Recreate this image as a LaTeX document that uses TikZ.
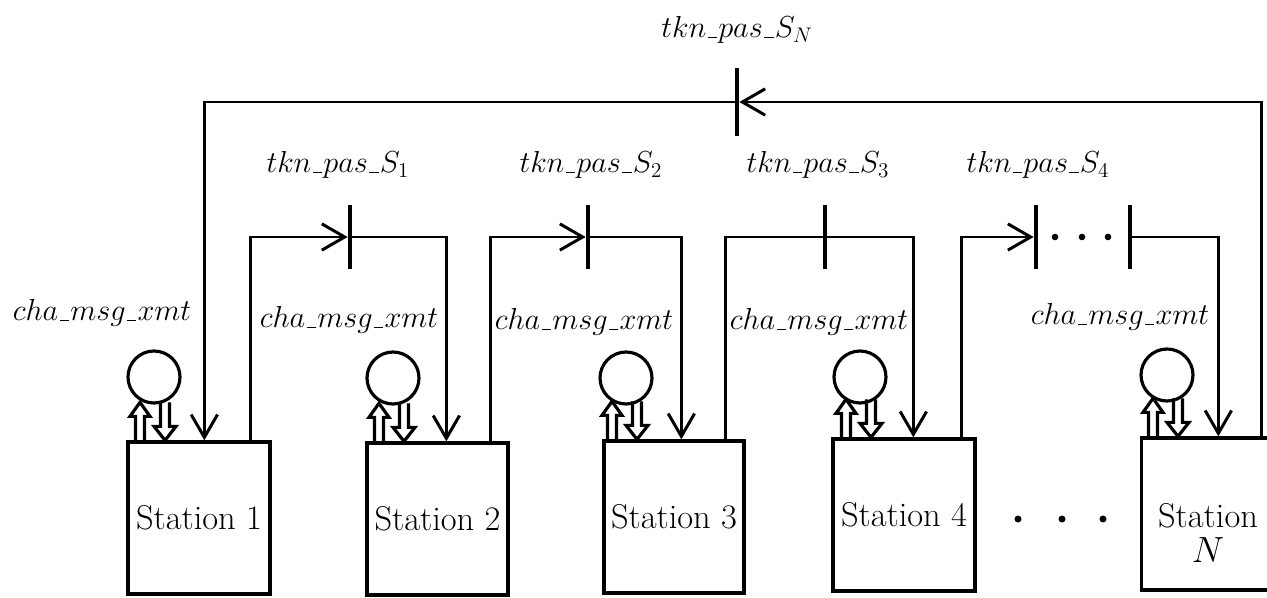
\documentclass[tikz,border=0pt]{standalone}
\usetikzlibrary{arrows.meta,calc}
% short underscore, as in the typeset identifiers
\newcommand{\us}{\kern0.04em\rule[-0.03em]{0.32em}{0.055em}\kern0.04em}
\begin{document}
\begin{tikzpicture}[x=0.02cm,y=-0.02cm,
  wire/.style={line width=1.7pt},
  tip/.style={-{Straight Barb[length=13pt,width=15pt]}},
  station/.style={draw,line width=1.9pt,minimum width=2.84cm,minimum height=3.04cm,
    inner sep=0pt,font=\fontsize{19.6}{22}\selectfont},
  place/.style={circle,draw,line width=1.8pt,minimum size=1.04cm,inner sep=0pt},
  bar/.style={fill=black,minimum width=0.08cm,minimum height=1.3cm,inner sep=0pt},
  lab/.style={font=\fontsize{17}{20}\selectfont,inner sep=0pt},
  blk/.style={line width=1.8pt,line join=miter},
  upblk/.pic={\draw[blk] (-4.5,0) -- (-4.5,-24) -- (-10,-24) -- (0,-38) -- (10,-24) -- (4.5,-24) -- (4.5,0);},
  downblk/.pic={\draw[blk] (-4.5,-38) -- (-4.5,-14) -- (-11,-14) -- (0,0) -- (11,-14) -- (4.5,-14) -- (4.5,-38);}
]
\useasboundingbox (0,0) rectangle (1267,598);

% stations
\node[station] (st1) at (199,518) {Station 1};
\node[station,minimum width=2.82cm] (st2) at (437.5,519) {Station 2};
\node[station,minimum width=2.8cm] (st3) at (674,517) {Station 3};
\node[station] (st4) at (904,515) {Station 4};
\node[station,minimum width=2.66cm] (stN) at (1208,514) {};
\node[font=\fontsize{19.6}{20}\selectfont,align=center,inner sep=0pt] (stNtext) at (1208,533) {Station\\$N$};

% places
\node[place] (p1) at (154,377) {};
\node[place] (p2) at (393,378) {};
\node[place] (p3) at (626,378) {};
\node[place] (p4) at (860,377) {};
\node[place] (pN) at (1167,375) {};

% place labels
\node[lab] (c1) at (102,313) {$cha\us msg\us xmt$};
\node[lab] (c2) at (349,320) {$cha\us msg\us xmt$};
\node[lab] (c3) at (584,322) {$cha\us msg\us xmt$};
\node[lab] (c4) at (819,322) {$cha\us msg\us xmt$};
\node[lab] (cN) at (1120,317) {$cha\us msg\us xmt$};

% hollow arcs between each place and its station
\foreach \p/\s in {p1/st1,p2/st2,p3/st3,p4/st4,pN/stN}{
  \pic at ($(\p.center |- \s.north)+(-14,0)$) {upblk};
  \pic at ($(\p.center |- \s.north)+(11,0)$) {downblk};
}

% token-passing transitions
\node[bar] (S1) at (350,237) {};
\node[bar] (S2) at (588,237) {};
\node[bar] (S3) at (825,237) {};
\node[bar] (S4a) at (1036,237) {};
\node[bar] (S4b) at (1130,237) {};
\node[bar,minimum height=1.36cm] (SN) at (737,102) {};

\node[lab] (l1) at (338,165) {$tkn\us pas\us S_1$};
\node[lab] (l2) at (591,165) {$tkn\us pas\us S_2$};
\node[lab] (l3) at (818,165) {$tkn\us pas\us S_3$};
\node[lab] (l4) at (1038,165) {$tkn\us pas\us S_4$};
\node[lab] (lN) at (737,30) {$tkn\us pas\us S_N$};

% ports on the station tops
\coordinate (i1) at ($(st1.north west)+(78,0)$);
\coordinate (o1) at ($(st1.north west)+(124,0)$);
\coordinate (i2) at ($(st2.north west)+(81,0)$);
\coordinate (o2) at ($(st2.north west)+(125,0)$);
\coordinate (i3) at ($(st3.north west)+(79,0)$);
\coordinate (o3) at ($(st3.north west)+(123,0)$);
\coordinate (i4) at ($(st4.north west)+(82,0)$);
\coordinate (o4) at ($(st4.north west)+(130,0)$);
\coordinate (iN) at ($(stN.north west)+(78.5,0)$);
\coordinate (oN) at ($(stN.north west)+(121.5,0)$);

% token ring
\draw[wire,tip] (o1) |- (S1);
\draw[wire,tip] (S1) -| (i2);
\draw[wire,tip] (o2) |- (S2);
\draw[wire,tip] (S2) -| (i3);
\draw[wire] (o3) |- (S3);
\draw[wire,tip] (S3) -| (i4);
\draw[wire,tip] (o4) |- (S4a);
\draw[wire,tip] (S4b) -| (iN);
\draw[wire,tip] (oN) |- (SN);
\draw[wire,tip] (SN) -| (i1);

% ellipses
\foreach \x in {1055,1082,1108} \fill (\x,237) circle[radius=3.3];
\foreach \x in {1018,1062,1103} \fill (\x,519) circle[radius=3.5];
\end{tikzpicture}
\end{document}
